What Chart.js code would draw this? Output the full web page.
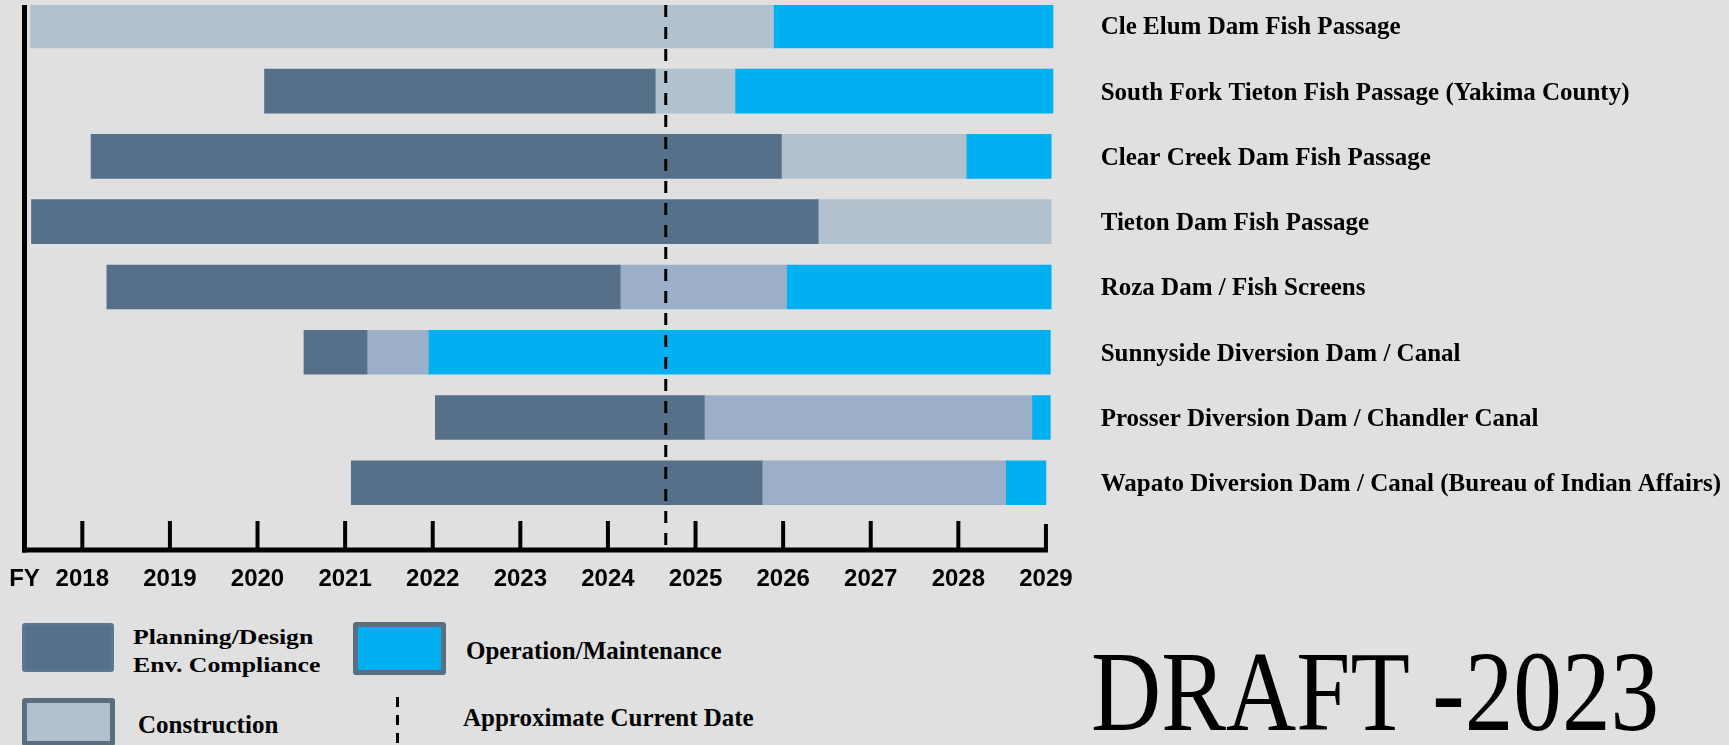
<!DOCTYPE html>
<html>
<head>
<meta charset="utf-8">
<script src="https://cdn.jsdelivr.net/npm/chart.js@4"></script>
<style>
    body { margin: 0; background: #e0e0e0; width: 1729px; height: 745px; overflow: hidden; position: relative; }
    #chart { position: absolute; left: 0; top: 0; }
    .txt { position: absolute; font-family: "Liberation Serif", "Times New Roman", serif; font-weight: bold; color: #000; white-space: nowrap; line-height: 1; }
    .swatch { position: absolute; box-sizing: border-box; border-radius: 3px; }
</style>
</head>
<body>
<canvas id="chart" width="1729" height="600"></canvas>

<div class="swatch" style="left:22px;top:623px;width:92px;height:49px;background:#56708a;border:3px solid #5d7791;"></div>
<div class="txt" style="left:133px;top:623px;font-size:22px;line-height:28px;transform:scaleX(1.17);transform-origin:left top;">Planning/Design<br>Env. Compliance</div>

<div class="swatch" style="left:353px;top:622px;width:93px;height:53px;background:#00b0f0;border:5px solid #5a6e80;"></div>
<div class="txt" style="left:466px;top:638px;font-size:25px;">Operation/Maintenance</div>

<div class="swatch" style="left:22px;top:698px;width:93px;height:48px;background:#b1c1ce;border:5px solid #5a6e80;"></div>
<div class="txt" style="left:138px;top:712px;font-size:25px;">Construction</div>

<div style="position:absolute;left:396px;top:697px;width:3px;height:48px;background:repeating-linear-gradient(to bottom,#000 0 10px,transparent 10px 18px);"></div>
<div class="txt" style="left:463px;top:705px;font-size:25px;">Approximate Current Date</div>

<div class="txt" style="left:1091px;top:635px;font-size:114px;font-weight:normal;transform:scaleX(0.853);transform-origin:left top;">DRAFT -2023</div>

<script>
const projects = [
    "Cle Elum Dam Fish Passage",
    "South Fork Tieton Fish Passage (Yakima County)",
    "Clear Creek Dam Fish Passage",
    "Tieton Dam Fish Passage",
    "Roza Dam / Fish Screens",
    "Sunnyside Diversion Dam / Canal",
    "Prosser Diversion Dam / Chandler Canal",
    "Wapato Diversion Dam / Canal (Bureau of Indian Affairs)"
];

// [start, end] in fiscal years
const planning = [
    null,
    [2020.08, 2024.54],
    [2018.10, 2025.98],
    [2017.42, 2026.40],
    [2018.28, 2024.14],
    [2020.53, 2021.25],
    [2022.03, 2025.10],
    [2021.07, 2025.76]
];
const construction = [
    [2017.41, 2025.89],
    [2024.54, 2025.45],
    [2025.98, 2028.09],
    [2026.40, 2029.06],
    [2024.14, 2026.04],
    [2021.25, 2021.95],
    [2025.10, 2028.84],
    [2025.76, 2028.54]
];
const operation = [
    [2025.89, 2029.08],
    [2025.45, 2029.08],
    [2028.09, 2029.06],
    null,
    [2026.04, 2029.06],
    [2021.95, 2029.05],
    [2028.84, 2029.05],
    [2028.54, 2029.00]
];

const yearTicks = [2018, 2019, 2020, 2021, 2022, 2023, 2024, 2025, 2026, 2027, 2028, 2029];
const axisStart = 2017.34;   // where the "FY" label sits
const axisEnd = 2029.1;
const currentDate = 2024.66;

const DARK = "#56708a";
const LIGHT = "#b1c1ce";
const MID = "#9bb0c8";
const CYAN = "#00b0f0";

function toPoints(arr) {
    return arr.map((v, i) => v ? { x: v, y: i } : null).filter(p => p);
}

// rows 1-4 use the lighter construction shade, rows 5-8 the bluer one
const constructionColors = construction.map((v, i) => i < 4 ? LIGHT : MID).filter((c, i) => construction[i]);

const axisPlugin = {
    id: "axisLines",
    afterDatasetsDraw(chart) {
        const ctx = chart.ctx;
        const x = chart.scales.x;
        const y = chart.scales.y;
        const area = chart.chartArea;
        const left = x.getPixelForValue(axisStart);
        const right = x.getPixelForValue(2029);

        ctx.save();
        ctx.strokeStyle = "#000";

        // left axis
        ctx.lineWidth = 5;
        ctx.beginPath();
        ctx.moveTo(left, area.top);
        ctx.lineTo(left, area.bottom + 2.5);
        ctx.stroke();

        // bottom axis
        ctx.beginPath();
        ctx.moveTo(left - 2.5, area.bottom);
        ctx.lineTo(right + 2, area.bottom);
        ctx.stroke();

        // year ticks pointing up
        ctx.lineWidth = 4;
        yearTicks.forEach(v => {
            const px = x.getPixelForValue(v);
            ctx.beginPath();
            ctx.moveTo(px, area.bottom - (v === 2029 ? 26 : 29));
            ctx.lineTo(px, area.bottom);
            ctx.stroke();
        });

        // current date dashed line
        const cx = x.getPixelForValue(currentDate);
        ctx.lineWidth = 3;
        ctx.setLineDash([12, 10]);
        ctx.beginPath();
        ctx.moveTo(cx, area.top);
        ctx.lineTo(cx, area.bottom + 3);
        ctx.stroke();
        ctx.setLineDash([]);

        // project names to the right of the bars
        ctx.fillStyle = "#000";
        ctx.font = "bold 25px 'Liberation Serif', 'Times New Roman', serif";
        ctx.textAlign = "left";
        ctx.textBaseline = "middle";
        projects.forEach((p, i) => {
            ctx.fillText(p, area.right + 46, y.getPixelForValue(i) + 2);
        });
        ctx.restore();
    }
};

new Chart(document.getElementById("chart"), {
    type: "bar",
    data: {
        labels: projects,
        datasets: [
            { label: "Planning/Design Env. Compliance", data: toPoints(planning), backgroundColor: DARK },
            { label: "Construction", data: toPoints(construction), backgroundColor: constructionColors },
            { label: "Operation/Maintenance", data: toPoints(operation), backgroundColor: CYAN }
        ]
    },
    options: {
        indexAxis: "y",
        responsive: false,
        animation: false,
        barThickness: 44,
        borderSkipped: false,
        layout: { autoPadding: false, padding: { left: 24.5, top: 5, right: 674.3, bottom: 0 } },
        plugins: { legend: { display: false }, tooltip: { enabled: false } },
        scales: {
            x: {
                type: "linear",
                min: axisStart,
                max: axisEnd,
                grid: { display: false },
                border: { display: false },
                afterFit: s => { s.height = 50; },
                afterBuildTicks: s => {
                    s.ticks = [{ value: axisStart }].concat(yearTicks.map(v => ({ value: v })));
                },
                ticks: {
                    autoSkip: false,
                    maxRotation: 0,
                    padding: 7,
                    color: "#000",
                    font: { family: "'Liberation Sans', Arial, sans-serif", size: 24, weight: "bold" },
                    callback: v => v === axisStart ? "FY" : String(v)
                }
            },
            y: {
                type: "linear",
                display: false,
                offset: false,
                reverse: true,
                stacked: true,
                min: -0.32,
                max: 8.03
            }
        }
    },
    plugins: [axisPlugin]
});
</script>
</body>
</html>
